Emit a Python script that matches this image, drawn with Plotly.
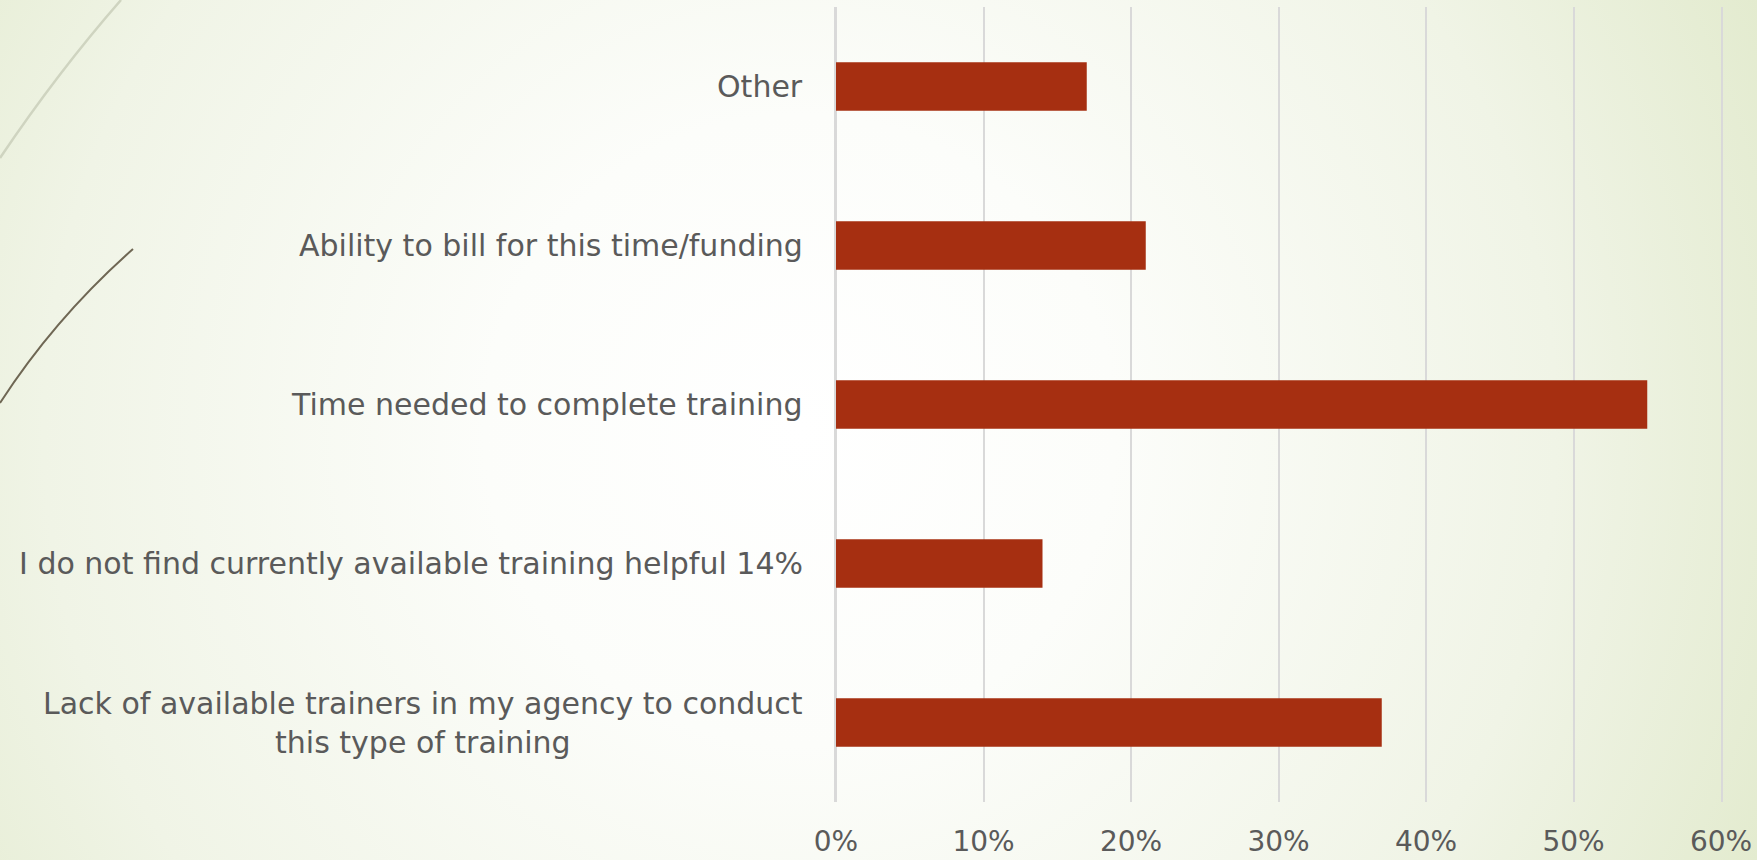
import base64
import plotly.graph_objects as go

# ---- data ----
categories = [
    "Lack of available trainers in my agency to conduct<br>this type of training",
    "I do not find currently available training helpful 14%",
    "Time needed to complete training",
    "Ability to bill for this time/funding",
    "Other",
]
values = [0.37, 0.14, 0.55, 0.21, 0.17]
tick_vals = [0, 0.1, 0.2, 0.3, 0.4, 0.5, 0.6]
tick_text = ["0%", "10%", "20%", "30%", "40%", "50%", "60%"]

# ---- layout constants ----
W, H = 1757, 860
ML, MR, MT, MB = 836, 36, 7, 58
PW = W - ML - MR
PH = H - MT - MB

FONT = "DejaVu Sans"
TXT = "#5a5a5a"
BAR = "#A62F11"
GRID = "#D9D9D9"

svg = f"""<svg xmlns='http://www.w3.org/2000/svg' width='{W}' height='{H}' viewBox='0 0 {W} {H}' preserveAspectRatio='none'>
<defs><radialGradient id='g' gradientUnits='userSpaceOnUse' cx='800' cy='430' r='1050'>
<stop offset='0' stop-color='#ffffff'/><stop offset='0.3' stop-color='#fcfdfa'/>
<stop offset='0.72' stop-color='#f0f4e6'/><stop offset='1' stop-color='#e3ebcf'/></radialGradient></defs>
<rect width='{W}' height='{H}' fill='url(#g)'/>
<path d='M0,158 Q58,72 121,0' stroke='#cfd4c0' stroke-width='2.5' fill='none'/>
<path d='M0,403 Q55,318 133,249' stroke='#6f6754' stroke-width='2' fill='none'/>
</svg>"""
src = "data:image/svg+xml;base64," + base64.b64encode(svg.encode()).decode()

fig = go.Figure(
    go.Bar(
        y=categories,
        x=values,
        orientation="h",
        marker=dict(color=BAR, line=dict(width=0)),
        hoverinfo="skip",
    )
)

annotations = [
    dict(
        x=0, xref="paper", y=c, yref="y",
        text=c, showarrow=False,
        xanchor="right", yanchor="middle", align="center",
        xshift=-31,
        font=dict(family=FONT, size=30, color=TXT),
    )
    for c in categories
]

fig.update_layout(
    width=W, height=H,
    margin=dict(l=ML, r=MR, t=MT, b=MB, pad=0, autoexpand=False),
    paper_bgcolor="#eaefdc",
    plot_bgcolor="rgba(0,0,0,0)",
    bargap=0.695,
    showlegend=False,
    annotations=annotations,
    images=[dict(
        source=src, xref="paper", yref="paper",
        x=-ML / PW, y=1 + MT / PH, sizex=W / PW, sizey=H / PH,
        xanchor="left", yanchor="top", sizing="stretch", layer="below",
    )],
    xaxis=dict(
        range=[0, 0.6], tickvals=tick_vals, ticktext=tick_text,
        showgrid=True, gridcolor=GRID, gridwidth=2,
        zeroline=True, zerolinecolor=GRID, zerolinewidth=2,
        showline=False, ticks="", ticklabelstandoff=20, automargin=False,
        tickfont=dict(family=FONT, size=28, color=TXT),
    ),
    yaxis=dict(
        type="category", categoryorder="array", categoryarray=categories,
        showticklabels=False, showgrid=False, zeroline=False,
        showline=True, mirror=True, linecolor=GRID, linewidth=2,
        range=[-0.5, 4.5], automargin=False,
    ),
)

fig.write_html(
    "out.html",
    config=dict(displayModeBar=False),
    post_script="document.body.style.margin='0';",
)
